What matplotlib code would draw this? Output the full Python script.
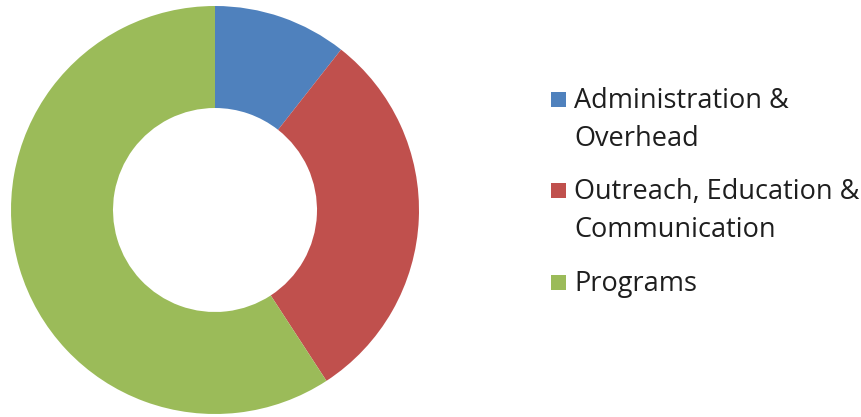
import matplotlib.pyplot as plt
from matplotlib.patches import Rectangle

# Budget split
labels = ['Administration &\nOverhead', 'Outreach, Education &\nCommunication', 'Programs']
shares = [10.6, 30.2, 59.2]
colors = ['#4F81BD', '#C0504D', '#9BBB59']

W, H = 861, 417
fig = plt.figure(figsize=(W / 100, H / 100), dpi=100)
fig.patch.set_facecolor('white')

# donut: centre (215, 210) px, outer radius 204 px
cx, cy, r = 215, 210, 204
ax = fig.add_axes([(cx - r) / W, (H - cy - r) / H, 2 * r / W, 2 * r / H])
ax.pie(shares, colors=colors, startangle=90, counterclock=False,
       radius=1.0, wedgeprops=dict(width=0.5, edgecolor='none'))
ax.set_xlim(-1, 1)
ax.set_ylim(-1, 1)
ax.set_aspect('equal')
ax.axis('off')

# legend drawn by hand: square marker + wrapped label
entry_baselines = [108, 199, 291]
line_gap = 38
for lab, col, yb in zip(labels, colors, entry_baselines):
    fig.patches.append(Rectangle((551 / W, (H - yb + 1) / H), 15 / W, 15 / H,
                                 transform=fig.transFigure, facecolor=col,
                                 edgecolor='none'))
    for k, line in enumerate(lab.split('\n')):
        fig.text(574 / W, (H - yb - k * line_gap) / H, line,
                 fontsize=19.5, family='Open Sans', color='#1e1e1e',
                 va='baseline', ha='left')

fig.savefig('out.png', dpi=100)
